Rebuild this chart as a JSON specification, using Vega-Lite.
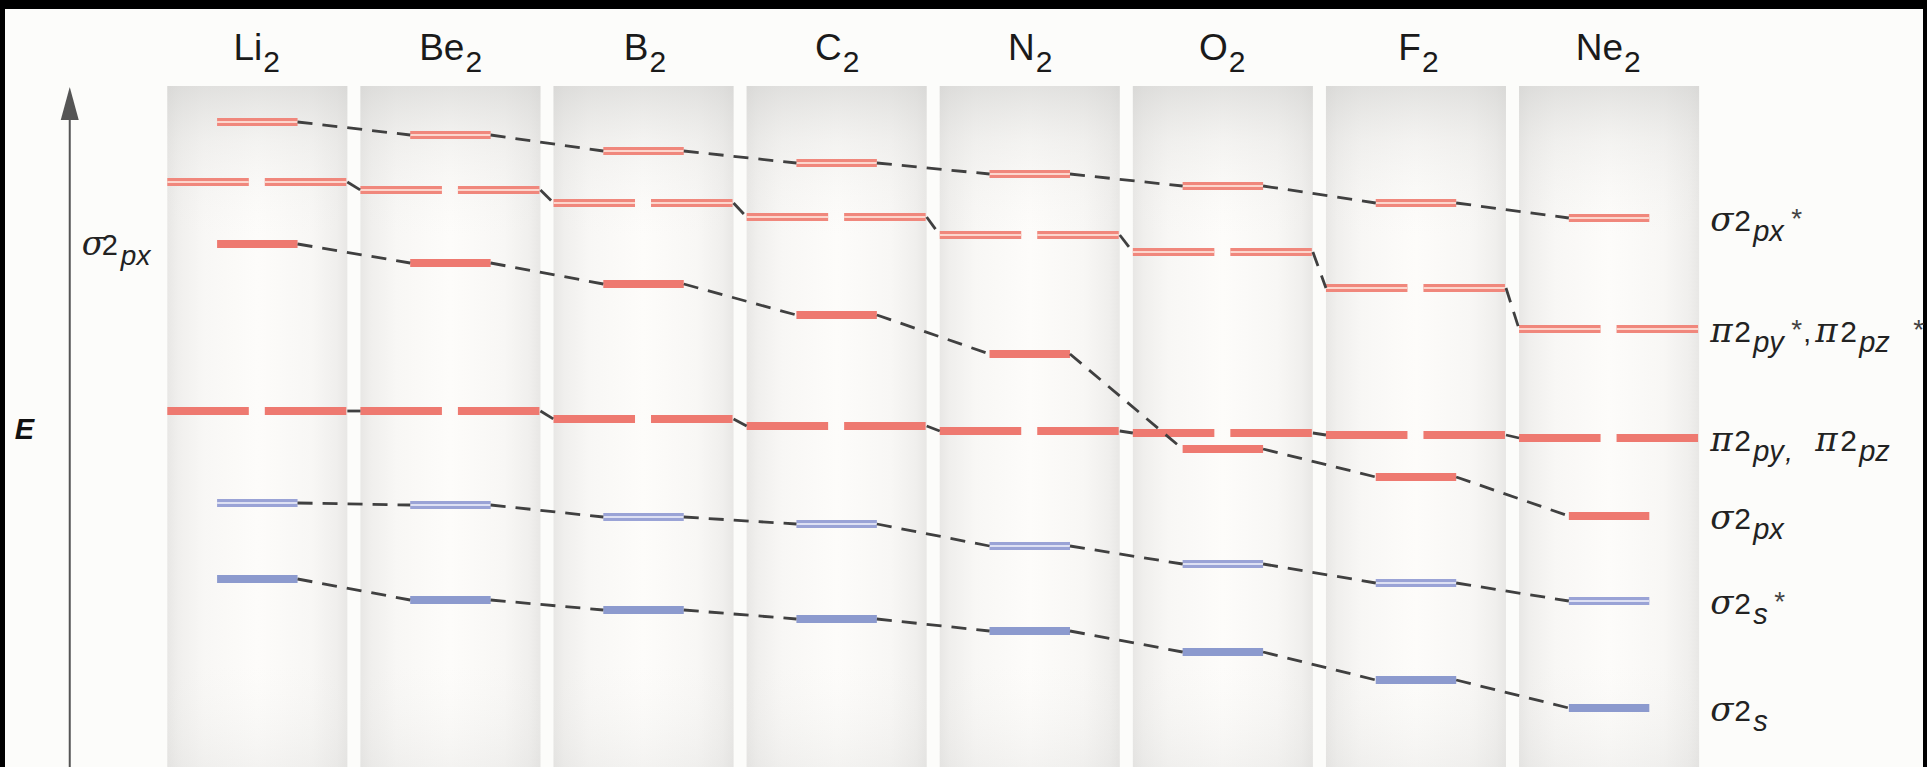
{
  "$schema": "https://vega.github.io/schema/vega-lite/v6.json",
  "width": 1918,
  "height": 758,
  "autosize": {"type": "none"},
  "padding": {"left": 5, "top": 9, "right": 4, "bottom": 0},
  "background": "#000000",
  "config": {"view": {"stroke": null, "fill": "#fcfcfa"}},
  "datasets": {
    "mo": [
      {"mol": "Li2", "el": "Li", "Z": 3, "s": 18.8, "s_star": 26.4, "pi": 35.6, "px": 52.3, "pi_star": 58.5, "px_star": 64.5},
      {"mol": "Be2", "el": "Be", "Z": 4, "s": 16.7, "s_star": 26.2, "pi": 35.6, "px": 50.4, "pi_star": 57.7, "px_star": 63.2},
      {"mol": "B2", "el": "B", "Z": 5, "s": 15.7, "s_star": 25.0, "pi": 34.8, "px": 48.3, "pi_star": 56.4, "px_star": 61.6},
      {"mol": "C2", "el": "C", "Z": 6, "s": 14.8, "s_star": 24.3, "pi": 34.1, "px": 45.2, "pi_star": 55.0, "px_star": 60.4},
      {"mol": "N2", "el": "N", "Z": 7, "s": 13.6, "s_star": 22.1, "pi": 33.6, "px": 41.3, "pi_star": 53.2, "px_star": 59.3},
      {"mol": "O2", "el": "O", "Z": 8, "s": 11.5, "s_star": 20.3, "pi": 33.4, "px": 31.8, "pi_star": 51.5, "px_star": 58.1},
      {"mol": "F2", "el": "F", "Z": 9, "s": 8.7, "s_star": 18.4, "pi": 33.2, "px": 29.0, "pi_star": 47.9, "px_star": 56.4},
      {"mol": "Ne2", "el": "Ne", "Z": 10, "s": 5.9, "s_star": 16.6, "pi": 32.9, "px": 25.1, "pi_star": 43.8, "px_star": 54.9}
    ],
    "labels": [
      {"orb": "px_star", "g1": "σ", "sub1": "px", "st1": "*"},
      {"orb": "pi_star", "g1": "π", "sub1": "py", "st1": "*", "comma": ",", "g2": "π", "sub2": "pz", "st2": "*"},
      {"orb": "pi", "g1": "π", "sub1": "py", "comma": ",", "g2": "π", "sub2": "pz"},
      {"orb": "px", "g1": "σ", "sub1": "px"},
      {"orb": "s_star", "g1": "σ", "sub1": "s", "st1": "*"},
      {"orb": "s", "g1": "σ", "sub1": "s"}
    ]
  },
  "layer": [
    {
      "data": {"name": "mo"},
      "mark": {"type": "bar", "width": {"band": 1}, "stroke": null,
        "fill": {"gradient": "linear", "x1": 0, "y1": 0, "x2": 1, "y2": 0, "stops": [
          {"offset": 0, "color": "#e8e7e5"}, {"offset": 0.06, "color": "#f0efed"}, {"offset": 0.2, "color": "#f8f7f5"},
          {"offset": 0.5, "color": "#fdfcfa"}, {"offset": 0.8, "color": "#f8f7f5"}, {"offset": 0.94, "color": "#f0efed"}, {"offset": 1, "color": "#e8e7e5"}]}},
      "encoding": {
        "x": {"field": "mol", "type": "nominal", "axis": null,
          "scale": {"type": "band", "domain": ["Li2", "Be2", "B2", "C2", "N2", "O2", "F2", "Ne2"], "paddingInner": 0.06771, "paddingOuter": 1.02865, "align": 0.42025}},
        "y": {"datum": 68.1, "type": "quantitative", "axis": null, "scale": {"domain": [0, 75.8], "nice": false, "zero": false}}
      }
    },
    {
      "data": {"name": "mo"},
      "mark": {"type": "bar", "width": {"band": 1}, "stroke": null,
        "fill": {"gradient": "linear", "x1": 0, "y1": 0, "x2": 0, "y2": 1, "stops": [
          {"offset": 0, "color": "rgba(205,205,203,0.55)"}, {"offset": 0.08, "color": "rgba(215,215,213,0.25)"},
          {"offset": 0.22, "color": "rgba(240,240,238,0)"}, {"offset": 0.85, "color": "rgba(240,240,238,0)"}, {"offset": 1, "color": "rgba(215,215,213,0.25)"}]}},
      "encoding": {
        "x": {"field": "mol", "type": "nominal"},
        "y": {"datum": 68.1, "type": "quantitative"}
      }
    },
    {
      "data": {"name": "mo"},
      "transform": [{"fold": ["s", "s_star", "pi", "px", "pi_star", "px_star"], "as": ["orb", "E"]}],
      "layer": [
        {
          "transform": [{"filter": {"field": "orb", "oneOf": ["s", "s_star", "px", "px_star"]}}],
          "mark": {"type": "rule", "strokeWidth": 8},
          "encoding": {
            "x": {"field": "mol", "type": "nominal", "bandPosition": 0.2765},
            "x2": {"field": "mol", "bandPosition": 0.7235},
            "y": {"field": "E", "type": "quantitative"},
            "color": {"field": "orb", "type": "nominal", "legend": null,
              "scale": {"domain": ["s", "s_star", "px", "px_star", "pi", "pi_star"], "range": ["#8c9ace", "#9aa3d6", "#ee7970", "#f0877c", "#ee7970", "#f0877c"]}}
          }
        },
        {
          "transform": [{"filter": {"field": "orb", "oneOf": ["pi", "pi_star"]}}],
          "mark": {"type": "rule", "strokeWidth": 8, "strokeDash": [81.5, 16]},
          "encoding": {
            "x": {"field": "mol", "type": "nominal", "bandPosition": 0},
            "x2": {"field": "mol", "bandPosition": 1},
            "y": {"field": "E", "type": "quantitative"},
            "color": {"field": "orb", "type": "nominal", "legend": null}
          }
        },
        {
          "transform": [{"filter": {"field": "orb", "equal": "s_star"}}],
          "mark": {"type": "rule", "strokeWidth": 2, "color": "#dde0f3"},
          "encoding": {
            "x": {"field": "mol", "type": "nominal", "bandPosition": 0.2765},
            "x2": {"field": "mol", "bandPosition": 0.7235},
            "y": {"field": "E", "type": "quantitative"}
          }
        },
        {
          "transform": [{"filter": {"field": "orb", "equal": "px_star"}}],
          "mark": {"type": "rule", "strokeWidth": 2, "color": "#fcd6cd"},
          "encoding": {
            "x": {"field": "mol", "type": "nominal", "bandPosition": 0.2765},
            "x2": {"field": "mol", "bandPosition": 0.7235},
            "y": {"field": "E", "type": "quantitative"}
          }
        },
        {
          "transform": [{"filter": {"field": "orb", "equal": "pi_star"}}],
          "mark": {"type": "rule", "strokeWidth": 2, "color": "#fcd6cd", "strokeDash": [81.5, 16]},
          "encoding": {
            "x": {"field": "mol", "type": "nominal", "bandPosition": 0},
            "x2": {"field": "mol", "bandPosition": 1},
            "y": {"field": "E", "type": "quantitative"}
          }
        },
        {
          "transform": [
            {"filter": {"field": "orb", "oneOf": ["s", "s_star", "px", "px_star"]}},
            {"window": [{"op": "lead", "field": "E", "as": "E2"}, {"op": "lead", "field": "mol", "as": "mol2"}], "groupby": ["orb"], "sort": [{"field": "Z"}]},
            {"filter": "isValid(datum.mol2)"}
          ],
          "mark": {"type": "rule", "strokeWidth": 2.8, "color": "#404040", "strokeDash": [15, 10]},
          "encoding": {
            "x": {"field": "mol", "type": "nominal", "bandPosition": 0.7235},
            "x2": {"field": "mol2", "bandPosition": 0.2765},
            "y": {"field": "E", "type": "quantitative"},
            "y2": {"field": "E2"}
          }
        },
        {
          "transform": [
            {"filter": {"field": "orb", "oneOf": ["pi", "pi_star"]}},
            {"window": [{"op": "lead", "field": "E", "as": "E2"}, {"op": "lead", "field": "mol", "as": "mol2"}], "groupby": ["orb"], "sort": [{"field": "Z"}]},
            {"filter": "isValid(datum.mol2)"}
          ],
          "mark": {"type": "rule", "strokeWidth": 2.8, "color": "#404040", "strokeDash": [15, 10]},
          "encoding": {
            "x": {"field": "mol", "type": "nominal", "bandPosition": 1},
            "x2": {"field": "mol2", "bandPosition": 0},
            "y": {"field": "E", "type": "quantitative"},
            "y2": {"field": "E2"}
          }
        }
      ]
    },
    {
      "data": {"name": "mo"},
      "encoding": {
        "x": {"field": "mol", "type": "nominal"},
        "y": {"datum": 70.7, "type": "quantitative"}
      },
      "layer": [
        {
          "transform": [{"filter": "datum.el != 'Be' && datum.el != 'Ne'"}],
          "mark": {"type": "text", "align": "right", "baseline": "alphabetic", "dx": 5, "font": "Liberation Sans", "fontSize": 37, "color": "#1a1a1a"},
          "encoding": {"text": {"field": "el"}}
        },
        {
          "transform": [{"filter": "datum.el != 'Be' && datum.el != 'Ne'"}],
          "mark": {"type": "text", "align": "left", "baseline": "alphabetic", "dx": 6, "dy": 12, "font": "Liberation Sans", "fontSize": 30, "color": "#1a1a1a"},
          "encoding": {"text": {"value": "2"}}
        },
        {
          "transform": [{"filter": "datum.el == 'Be' || datum.el == 'Ne'"}],
          "mark": {"type": "text", "align": "right", "baseline": "alphabetic", "dx": 14, "font": "Liberation Sans", "fontSize": 37, "color": "#1a1a1a"},
          "encoding": {"text": {"field": "el"}}
        },
        {
          "transform": [{"filter": "datum.el == 'Be' || datum.el == 'Ne'"}],
          "mark": {"type": "text", "align": "left", "baseline": "alphabetic", "dx": 15, "dy": 12, "font": "Liberation Sans", "fontSize": 30, "color": "#1a1a1a"},
          "encoding": {"text": {"value": "2"}}
        }
      ]
    },
    {
      "data": {"name": "mo"},
      "transform": [
        {"filter": "datum.Z == 10"},
        {"fold": ["s", "s_star", "pi", "px", "pi_star", "px_star"], "as": ["orb", "E"]},
        {"lookup": "orb", "from": {"data": {"name": "labels"}, "key": "orb", "fields": ["g1", "sub1", "st1", "comma", "g2", "sub2", "st2"]}}
      ],
      "encoding": {
        "x": {"field": "mol", "type": "nominal", "bandPosition": 1.0615},
        "y": {"field": "E", "type": "quantitative"}
      },
      "layer": [
        {"mark": {"type": "text", "align": "left", "baseline": "alphabetic", "dy": 13, "font": "DejaVu Serif", "fontStyle": "italic", "fontSize": 34, "color": "#222222"},
         "encoding": {"text": {"field": "g1"}}},
        {"mark": {"type": "text", "align": "left", "baseline": "alphabetic", "dx": 24, "dy": 13, "font": "Liberation Sans", "fontSize": 30, "color": "#222222"},
         "encoding": {"text": {"value": "2"}}},
        {"mark": {"type": "text", "align": "left", "baseline": "alphabetic", "dx": 43, "dy": 23, "font": "Liberation Sans", "fontStyle": "italic", "fontSize": 29, "color": "#222222"},
         "encoding": {"text": {"field": "sub1"}}},
        {"transform": [{"filter": "datum.st1 && length(datum.sub1) == 2"}],
         "mark": {"type": "text", "align": "left", "baseline": "alphabetic", "dx": 81, "dy": 10, "font": "Liberation Sans", "fontSize": 28, "color": "#444444"},
         "encoding": {"text": {"field": "st1"}}},
        {"transform": [{"filter": "datum.st1 && length(datum.sub1) == 1"}],
         "mark": {"type": "text", "align": "left", "baseline": "alphabetic", "dx": 64, "dy": 10, "font": "Liberation Sans", "fontSize": 28, "color": "#444444"},
         "encoding": {"text": {"field": "st1"}}},
        {"transform": [{"filter": "datum.comma && datum.st1"}],
         "mark": {"type": "text", "align": "left", "baseline": "alphabetic", "dx": 93, "dy": 13, "font": "Liberation Sans", "fontSize": 28, "color": "#222222"},
         "encoding": {"text": {"field": "comma"}}},
        {"transform": [{"filter": "datum.comma && !datum.st1"}],
         "mark": {"type": "text", "align": "left", "baseline": "alphabetic", "dx": 75, "dy": 23, "font": "Liberation Sans", "fontStyle": "italic", "fontSize": 27, "color": "#222222"},
         "encoding": {"text": {"field": "comma"}}},
        {"transform": [{"filter": "datum.g2"}],
         "mark": {"type": "text", "align": "left", "baseline": "alphabetic", "dx": 105, "dy": 13, "font": "DejaVu Serif", "fontStyle": "italic", "fontSize": 34, "color": "#222222"},
         "encoding": {"text": {"field": "g2"}}},
        {"transform": [{"filter": "datum.g2"}],
         "mark": {"type": "text", "align": "left", "baseline": "alphabetic", "dx": 130, "dy": 13, "font": "Liberation Sans", "fontSize": 30, "color": "#222222"},
         "encoding": {"text": {"value": "2"}}},
        {"transform": [{"filter": "datum.g2"}],
         "mark": {"type": "text", "align": "left", "baseline": "alphabetic", "dx": 149, "dy": 23, "font": "Liberation Sans", "fontStyle": "italic", "fontSize": 29, "color": "#222222"},
         "encoding": {"text": {"field": "sub2"}}},
        {"transform": [{"filter": "datum.st2"}],
         "mark": {"type": "text", "align": "left", "baseline": "alphabetic", "dx": 203, "dy": 10, "font": "Liberation Sans", "fontSize": 28, "color": "#444444"},
         "encoding": {"text": {"field": "st2"}}}
      ]
    },
    {
      "data": {"name": "mo"},
      "transform": [{"filter": "datum.Z == 3"}],
      "layer": [
        {
          "encoding": {
            "x": {"field": "mol", "type": "nominal", "bandPosition": -0.4749},
            "y": {"field": "px", "type": "quantitative"}
          },
          "layer": [
            {"mark": {"type": "text", "align": "left", "baseline": "alphabetic", "dy": 11, "font": "DejaVu Serif", "fontStyle": "italic", "fontSize": 33, "color": "#222222"},
             "encoding": {"text": {"value": "σ"}}},
            {"mark": {"type": "text", "align": "left", "baseline": "alphabetic", "dx": 20, "dy": 11, "font": "Liberation Sans", "fontSize": 29, "color": "#222222"},
             "encoding": {"text": {"value": "2"}}},
            {"mark": {"type": "text", "align": "left", "baseline": "alphabetic", "dx": 39, "dy": 21, "font": "Liberation Sans", "fontStyle": "italic", "fontSize": 28, "color": "#222222"},
             "encoding": {"text": {"value": "px"}}}
          ]
        },
        {
          "mark": {"type": "rule", "color": "#555555", "strokeWidth": 2},
          "encoding": {
            "x": {"field": "mol", "type": "nominal", "bandPosition": -0.5419},
            "y": {"datum": 65, "type": "quantitative"},
            "y2": {"datum": 0}
          }
        },
        {
          "mark": {"type": "point", "filled": true, "color": "#555555", "opacity": 1, "size": 1089, "shape": "M0,-1L0.545,1L-0.545,1Z"},
          "encoding": {
            "x": {"field": "mol", "type": "nominal", "bandPosition": -0.5419},
            "y": {"datum": 66.35, "type": "quantitative"}
          }
        },
        {
          "mark": {"type": "text", "align": "center", "baseline": "middle", "font": "Liberation Sans", "fontStyle": "italic", "fontWeight": "bold", "fontSize": 29, "color": "#111111"},
          "encoding": {
            "x": {"field": "mol", "type": "nominal", "bandPosition": -0.7933},
            "y": {"datum": 33.7, "type": "quantitative"},
            "text": {"value": "E"}
          }
        }
      ]
    }
  ]
}
